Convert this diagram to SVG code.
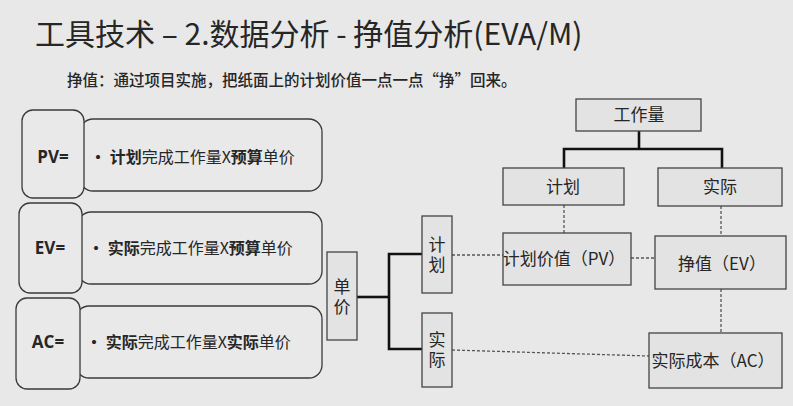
<svg xmlns="http://www.w3.org/2000/svg" width="793" height="406" viewBox="0 0 793 406">
<style>
text{font-family:"Noto Sans CJK SC","Liberation Sans",sans-serif;fill:#262626}
.rb{fill:#e9e9e9;stroke:#3a3a3a;stroke-width:1.3}
.bx{fill:#e3e3e3;stroke:#444;stroke-width:1.3}
.lbl{font-size:17px;font-weight:bold;text-anchor:middle;font-family:"Open Sans","Liberation Sans",sans-serif}
.f{font-size:16px}
.b{font-weight:bold}
.n{font-size:17px;text-anchor:middle}
.v{font-size:17px;text-anchor:middle;writing-mode:vertical-rl;letter-spacing:3px}
.solid{fill:none;stroke:#111;stroke-width:2.6}
.dot{fill:none;stroke:#555;stroke-width:1.3;stroke-dasharray:3 2}
</style>
<rect width="793" height="406" fill="#e8e8e8"/>
<g id="title"><text x="35" y="45" font-size="30" fill="#222">工具技术 – 2.数据分析 - 挣值分析(EVA/M)</text></g>
<g id="subtitle"><text x="67" y="86" font-size="15.5" font-weight="500" fill="#333">挣值：通过项目实施，把纸面上的计划价值一点一点“挣”回来。</text></g>

<g id="pv">
<rect class="rb" x="80" y="119" width="242" height="72" rx="13"/>
<rect class="rb" x="22" y="110" width="62" height="88" rx="11"/>
<text class="lbl" x="53" y="163">PV=</text>
<text class="f" x="90" y="163"><tspan class="b">• </tspan><tspan class="b">计划</tspan><tspan>完成工作量X</tspan><tspan class="b">预算</tspan><tspan>单价</tspan></text>
</g>
<g id="ev">
<rect class="rb" x="78" y="212" width="244" height="72" rx="13"/>
<rect class="rb" x="19" y="203" width="63" height="90" rx="11"/>
<text class="lbl" x="50" y="254">EV=</text>
<text class="f" x="88" y="254"><tspan class="b">• </tspan><tspan class="b">实际</tspan><tspan>完成工作量X</tspan><tspan class="b">预算</tspan><tspan>单价</tspan></text>
</g>
<g id="ac">
<rect class="rb" x="76" y="306" width="246" height="72" rx="13"/>
<rect class="rb" x="16" y="298" width="64" height="91" rx="11"/>
<text class="lbl" x="48" y="348">AC=</text>
<text class="f" x="86" y="348"><tspan class="b">• </tspan><tspan class="b">实际</tspan><tspan>完成工作量X</tspan><tspan class="b">实际</tspan><tspan>单价</tspan></text>
</g>

<g id="connectors">
<polyline class="solid" points="639,131 639,149"/>
<polyline class="solid" points="564,168 564,149 722,149 722,168"/>
<polyline class="solid" points="357,297 389,297"/>
<polyline class="solid" points="422,254 389,254 389,349 422,349"/>
<line class="dot" x1="564" y1="205" x2="564" y2="233"/>
<line class="dot" x1="721" y1="206" x2="721" y2="236"/>
<line class="dot" x1="631" y1="258" x2="655" y2="258"/>
<line class="dot" x1="721" y1="289" x2="721" y2="333"/>
<line class="dot" x1="452" y1="255" x2="503" y2="255"/>
<line class="dot" x1="452" y1="350" x2="649" y2="356"/>
</g>

<g id="workload"><rect class="bx" x="576" y="99" width="125" height="32"/><text class="n" x="639" y="121">工作量</text></g>
<g id="plan"><rect class="bx" x="503" y="168" width="121" height="37"/><text class="n" x="563" y="193">计划</text></g>
<g id="actual"><rect class="bx" x="658" y="168" width="124" height="38"/><text class="n" x="720" y="193">实际</text></g>
<g id="pvbox"><rect class="bx" x="503" y="233" width="128" height="52"/><text class="n" x="564" y="265" font-size="17.5">计划价值（PV）</text></g>
<g id="evbox"><rect class="bx" x="655" y="236" width="131" height="53"/><text class="n" x="722" y="270" font-size="20">挣值（EV）</text></g>
<g id="acbox"><rect class="bx" x="649" y="333" width="133" height="55"/><text class="n" x="713" y="367" font-size="18">实际成本（AC）</text></g>
<g id="unitprice"><rect class="bx" x="327" y="252" width="30" height="88"/><text class="v" x="342" y="298">单价</text></g>
<g id="vplan"><rect class="bx" x="422" y="216" width="30" height="77"/><text class="v" x="437" y="256">计划</text></g>
<g id="vactual"><rect class="bx" x="422" y="313" width="30" height="74"/><text class="v" x="437" y="351">实际</text></g>
</svg>
